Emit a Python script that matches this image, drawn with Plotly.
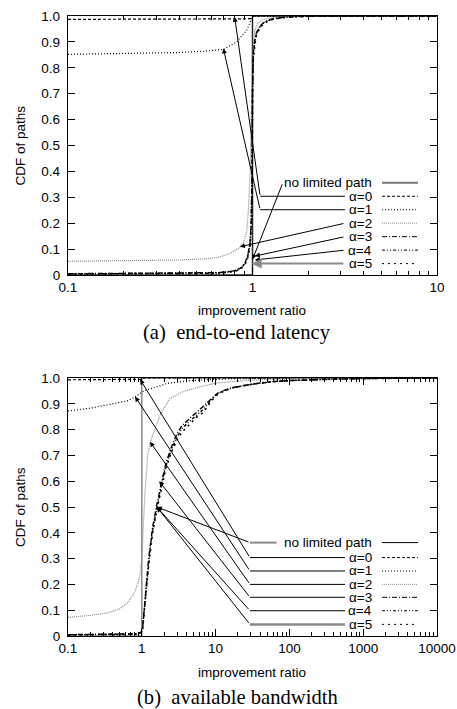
import math
import plotly.graph_objects as go

W, H = 457, 709

SERIES = ["no limited path", "α=0", "α=1", "α=2", "α=3", "α=4", "α=5"]

# ---------------- (a) end-to-end latency ----------------
lat_x_ticks = [0.1, 1, 10]
lat_x_ticktext = ["0.1", "1", "10"]

lat_nolimit_x = [0.1, 1.0, 1.0, 10.0]
lat_nolimit_y = [0.0, 0.0, 1.0, 1.0]

lat_a0_x = [0.1, 0.3, 0.6, 0.9, 0.97, 0.99, 1.0, 1.02, 10.0]
lat_a0_y = [0.987, 0.987, 0.988, 0.989, 0.990, 0.992, 0.997, 1.0, 1.0]

lat_a1_x = [0.1, 0.2, 0.4, 0.55, 0.7, 0.82, 0.93, 0.97, 0.99, 1.0, 10.0]
lat_a1_y = [0.852, 0.855, 0.859, 0.864, 0.872, 0.900, 0.945, 0.975, 0.992, 1.0, 1.0]

lat_a2_x = [0.1, 0.2, 0.4, 0.55, 0.65, 0.75, 0.85, 0.9, 0.93, 0.95, 0.97, 0.98, 0.99, 1.0,
            1.03, 1.07, 1.13, 1.21, 1.4, 1.8, 10.0]
lat_a2_y = [0.053, 0.055, 0.058, 0.062, 0.068, 0.082, 0.105, 0.13, 0.17, 0.25, 0.40, 0.55, 0.70, 0.85,
            0.946, 0.972, 0.985, 0.991, 0.996, 0.999, 1.0]

lat_a3_x = [0.1, 0.3, 0.5, 0.65, 0.75, 0.82, 0.87, 0.91, 0.94, 0.97, 0.985, 0.995, 1.0, 1.01,
            1.03, 1.05, 1.1, 1.15, 1.22, 1.3, 1.45, 1.7, 2.2, 10.0]
lat_a3_y = [0.005, 0.006, 0.007, 0.009, 0.013, 0.019, 0.029, 0.046, 0.072, 0.125, 0.21, 0.42, 0.72, 0.86,
            0.905, 0.935, 0.962, 0.975, 0.984, 0.990, 0.995, 0.998, 1.0, 1.0]

lat_a4_x = [0.1, 0.3, 0.5, 0.65, 0.75, 0.82, 0.87, 0.91, 0.94, 0.97, 0.985, 0.995, 1.0, 1.01,
            1.03, 1.05, 1.1, 1.15, 1.22, 1.3, 1.45, 1.7, 2.2, 10.0]
lat_a4_y = [0.004, 0.005, 0.006, 0.008, 0.012, 0.018, 0.028, 0.044, 0.069, 0.12, 0.2, 0.40, 0.70, 0.85,
            0.90, 0.932, 0.960, 0.973, 0.983, 0.989, 0.994, 0.998, 1.0, 1.0]

lat_a5_x = [0.1, 0.3, 0.5, 0.65, 0.75, 0.82, 0.87, 0.91, 0.94, 0.97, 0.985, 0.995, 1.0, 1.01,
            1.03, 1.05, 1.1, 1.15, 1.22, 1.3, 1.45, 1.7, 2.2, 10.0]
lat_a5_y = [0.004, 0.005, 0.006, 0.007, 0.011, 0.016, 0.026, 0.040, 0.064, 0.11, 0.19, 0.38, 0.68, 0.83,
            0.89, 0.925, 0.956, 0.970, 0.981, 0.988, 0.993, 0.997, 1.0, 1.0]

lat_key_y = [0.356, 0.304, 0.252, 0.200, 0.148, 0.096, 0.044]
lat_leader_start_x = [1.46, 3.17, 3.17, 3.17, 3.17, 3.17, 3.17]
lat_leader_corner_x = [1.46, 1.10, 1.10, 3.17, 3.17, 3.17, 3.17]
lat_leader_tip_x = [1.0, 0.80, 0.695, 0.855, 1.03, 1.03, 0.99]
lat_leader_tip_y = [0.06, 0.997, 0.875, 0.109, 0.073, 0.058, 0.044]

# ---------------- (b) available bandwidth ----------------
bw_x_ticks = [0.1, 1, 10, 100, 1000, 10000]
bw_x_ticktext = ["0.1", "1", "10", "100", "1000", "10000"]

bw_nolimit_x = [0.1, 1.0, 1.0, 10000.0]
bw_nolimit_y = [0.0, 0.0, 1.0, 1.0]

bw_a0_x = [0.1, 0.5, 0.85, 0.95, 1.0, 1.1, 10000.0]
bw_a0_y = [0.993, 0.993, 0.994, 0.995, 0.998, 1.0, 1.0]

bw_a1_x = [0.1, 0.2, 0.37, 0.5, 0.65, 0.8, 0.95, 1.1, 1.45, 2.2, 4.5, 10, 30, 100, 10000]
bw_a1_y = [0.872, 0.883, 0.898, 0.904, 0.912, 0.926, 0.942, 0.952, 0.962, 0.979, 0.990, 0.995, 0.998, 1.0, 1.0]

bw_a2_x = [0.1, 0.2, 0.35, 0.5, 0.65, 0.8, 0.9, 0.95, 1.0, 1.05, 1.1, 1.2, 1.3, 1.5, 1.8, 2.4,
           3.6, 6, 10, 30, 70, 200, 1000, 10000]
bw_a2_y = [0.072, 0.080, 0.090, 0.105, 0.13, 0.17, 0.21, 0.24, 0.30, 0.42, 0.55, 0.70, 0.75, 0.80, 0.86, 0.92,
           0.947, 0.965, 0.980, 0.992, 0.996, 0.999, 1.0, 1.0]

bw_cdf_x = [0.1, 0.3, 0.6, 0.85, 0.97, 1.02, 1.06, 1.1, 1.16, 1.22, 1.3, 1.4, 1.6, 1.86, 2.1, 2.5, 3.0,
            3.5, 4.1, 4.8, 5.5, 6.5, 7.6, 9, 10.5, 13, 17, 25, 36, 60, 100, 300, 1000, 10000]
bw_a3_y = [0.005, 0.006, 0.007, 0.009, 0.014, 0.025, 0.08, 0.14, 0.22, 0.28, 0.35, 0.42, 0.51, 0.60, 0.665,
           0.73, 0.785, 0.815, 0.835, 0.852, 0.866, 0.885, 0.905, 0.925, 0.940, 0.952, 0.963, 0.972, 0.979,
           0.986, 0.990, 0.995, 0.998, 1.0]
bw_a4_y = [0.005, 0.005, 0.006, 0.008, 0.013, 0.022, 0.075, 0.135, 0.21, 0.27, 0.34, 0.41, 0.50, 0.59, 0.655,
           0.72, 0.772, 0.803, 0.824, 0.841, 0.857, 0.873, 0.895, 0.920, 0.937, 0.951, 0.962, 0.972, 0.979,
           0.986, 0.990, 0.995, 0.998, 1.0]
bw_a5_y = [0.004, 0.005, 0.006, 0.008, 0.012, 0.020, 0.07, 0.13, 0.20, 0.26, 0.33, 0.40, 0.49, 0.58, 0.645,
           0.71, 0.76, 0.79, 0.812, 0.830, 0.848, 0.862, 0.885, 0.915, 0.935, 0.950, 0.962, 0.972, 0.979,
           0.986, 0.990, 0.995, 0.998, 1.0]

bw_key_y = [0.362, 0.304, 0.252, 0.200, 0.150, 0.098, 0.045]
bw_leader_start_x = [67.3, 566, 566, 566, 566, 566, 566]
bw_leader_corner_x = [29.2, 29.2, 29.2, 29.2, 29.2, 29.2, 29.2]
bw_leader_tip_x = [1.6, 0.946, 0.81, 1.29, 1.72, 1.6, 1.6]
bw_leader_tip_y = [0.50, 0.995, 0.928, 0.753, 0.60, 0.50, 0.50]

# ---------------- styles ----------------
DASHES = ["solid", "3px,2px", "1px,2px", "1px,1px", "5px,2px,1px,2px", "3px,2px,1px,2px,1px,2px", "2px,4px"]
COLORS = ["#333333", "black", "black", "#8a8a8a", "black", "black", "black"]
WIDTHS = [1.5, 1.2, 1.2, 1.2, 1.4, 1.4, 1.6]

panels = [
    dict(xa="x", ya="y",
         series=[(lat_nolimit_x, lat_nolimit_y), (lat_a0_x, lat_a0_y), (lat_a1_x, lat_a1_y),
                 (lat_a2_x, lat_a2_y), (lat_a3_x, lat_a3_y), (lat_a4_x, lat_a4_y), (lat_a5_x, lat_a5_y)],
         nolimit_color="#2a2a2a",
         key_y=lat_key_y, start_x=lat_leader_start_x, corner_x=lat_leader_corner_x,
         tip_x=lat_leader_tip_x, tip_y=lat_leader_tip_y,
         lead_colors=["black"] * 6 + ["#8a8a8a"], lead_widths=[1] * 6 + [2],
         sample_colors=["#777777"] + ["black"] * 2 + ["#8a8a8a"] + ["black"] * 3,
         sample_widths=[2, 1, 1, 1, 1, 1, 1]),
    dict(xa="x2", ya="y2",
         series=[(bw_nolimit_x, bw_nolimit_y), (bw_a0_x, bw_a0_y), (bw_a1_x, bw_a1_y),
                 (bw_a2_x, bw_a2_y), (bw_cdf_x, bw_a3_y), (bw_cdf_x, bw_a4_y), (bw_cdf_x, bw_a5_y)],
         nolimit_color="#8a8a8a",
         key_y=bw_key_y, start_x=bw_leader_start_x, corner_x=bw_leader_corner_x,
         tip_x=bw_leader_tip_x, tip_y=bw_leader_tip_y,
         lead_colors=["#8a8a8a"] + ["black"] * 5 + ["#8a8a8a"], lead_widths=[2] + [1] * 5 + [2.5],
         sample_colors=["black"] * 3 + ["#8a8a8a"] + ["black"] * 3,
         sample_widths=[1, 1, 1, 1, 1, 1, 1]),
]

fig = go.Figure()
annotations = []
shapes = []

SANS = "Liberation Sans, Arial, Helvetica, sans-serif"
SERIF = "Liberation Serif, Times New Roman, serif"

for p in panels:
    for i, (xs, ys) in enumerate(p["series"]):
        col = p["nolimit_color"] if i == 0 else COLORS[i]
        fig.add_trace(go.Scatter(x=xs, y=ys, mode="lines", xaxis=p["xa"], yaxis=p["ya"],
                                 line=dict(color=col, width=WIDTHS[i], dash=DASHES[i]),
                                 showlegend=False, hoverinfo="skip"))
    for i in range(len(SERIES)):
        ky = p["key_y"][i]
        straight = p["start_x"][i] == p["corner_x"][i]
        if not straight:
            fig.add_trace(go.Scatter(x=[p["start_x"][i], p["corner_x"][i]], y=[ky, ky], mode="lines",
                                     xaxis=p["xa"], yaxis=p["ya"],
                                     line=dict(color=p["lead_colors"][i], width=p["lead_widths"][i]),
                                     showlegend=False, hoverinfo="skip"))
        annotations.append(dict(
            x=math.log10(p["tip_x"][i]), y=p["tip_y"][i], xref=p["xa"], yref=p["ya"],
            ax=math.log10(p["corner_x"][i]), ay=ky, axref=p["xa"], ayref=p["ya"],
            text="", showarrow=True, arrowhead=2, arrowsize=1,
            arrowwidth=p["lead_widths"][i] if straight else 1,
            arrowcolor=p["lead_colors"][i] if straight else "black",
            standoff=0, startstandoff=0))
        annotations.append(dict(
            x=0.8266, y=ky, xref=p["xa"] + " domain", yref=p["ya"], xanchor="right", yanchor="middle",
            text=SERIES[i], showarrow=False, borderpad=0,
            font=dict(family=SANS, size=13.5, color="black")))
        shapes.append(dict(type="line", xref=p["xa"] + " domain", yref=p["ya"],
                           x0=0.851, x1=0.9485, y0=ky, y1=ky,
                           line=dict(color=p["sample_colors"][i], width=p["sample_widths"][i],
                                     dash=DASHES[i])))


def xaxis(tickvals, ticktext, rng, domain, anchor):
    lo, hi = int(rng[0]), int(rng[1])
    minor_vals = [m * 10 ** k for k in range(lo, hi) for m in range(2, 10)]
    return dict(type="log", range=rng, domain=domain, anchor=anchor, automargin=False,
                tickmode="array", tickvals=tickvals, ticktext=ticktext,
                showline=True, linecolor="black", linewidth=1.3, mirror="allticks",
                ticks="inside", ticklen=7, tickwidth=1, tickcolor="black",
                minor=dict(tickmode="array", tickvals=minor_vals, ticks="inside", ticklen=4,
                           tickwidth=1, tickcolor="black", showgrid=False),
                showgrid=False, zeroline=False, ticklabelstandoff=0,
                tickfont=dict(family=SANS, size=13.5, color="black"))


def yaxis(domain, anchor):
    vals = [i / 10 for i in range(11)]
    texts = ["0"] + ["%.1f" % v for v in vals[1:]]
    return dict(range=[0, 1], domain=domain, anchor=anchor, tickmode="array", automargin=False,
                tickvals=vals, ticktext=texts,
                showline=True, linecolor="black", linewidth=1.3, mirror="allticks",
                ticks="inside", ticklen=7, tickwidth=1, tickcolor="black",
                showgrid=False, zeroline=False, ticklabelstandoff=4,
                tickfont=dict(family=SANS, size=13.5, color="black"))


xdom = [68 / W, 437 / W]
top_dom = [1 - 275 / H, 1 - 16 / H]
bot_dom = [1 - 636 / H, 1 - 378 / H]

for yc_title, yc_cdf, ycap, cap in [(310, 145.5, 333, "(a)\u2002end-to-end latency"),
                                    (672, 507, 697, "(b)\u2002available bandwidth")]:
    annotations.append(dict(x=252 / W, y=1 - yc_title / H, xref="paper", yref="paper",
                            text="improvement ratio", showarrow=False, xanchor="center", yanchor="middle",
                            font=dict(family=SANS, size=13.5, color="black")))
    annotations.append(dict(x=20 / W, y=1 - yc_cdf / H, xref="paper", yref="paper",
                            text="CDF of paths", textangle=-90, showarrow=False,
                            xanchor="center", yanchor="middle",
                            font=dict(family=SANS, size=13.5, color="black")))
    annotations.append(dict(x=237 / W, y=1 - ycap / H, xref="paper", yref="paper",
                            text=cap, showarrow=False, xanchor="center", yanchor="middle",
                            font=dict(family=SERIF, size=20.6, color="black")))

fig.update_layout(
    width=W, height=H, margin=dict(l=0, r=0, t=0, b=0, pad=0, autoexpand=False),
    paper_bgcolor="white", plot_bgcolor="white", showlegend=False,
    xaxis=xaxis(lat_x_ticks, lat_x_ticktext, [-1, 1], xdom, "y"),
    yaxis=yaxis(top_dom, "x"),
    xaxis2=xaxis(bw_x_ticks, bw_x_ticktext, [-1, 4], xdom, "y2"),
    yaxis2=yaxis(bot_dom, "x2"),
    annotations=annotations, shapes=shapes,
)

fig.write_html("out.html",
               post_script="document.body.style.margin='0px';document.body.style.padding='0px';")
